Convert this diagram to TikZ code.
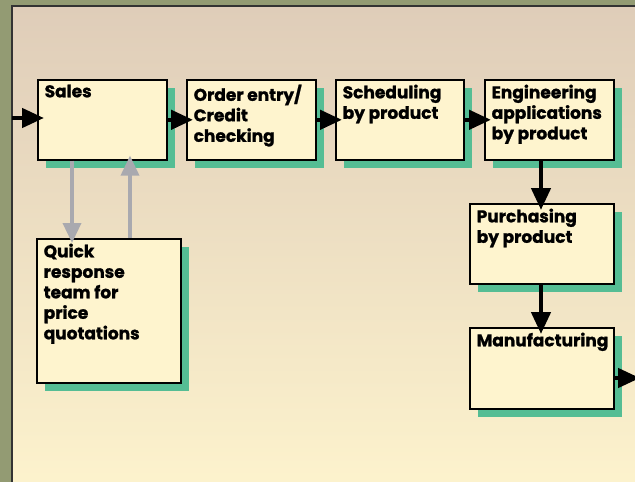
\documentclass[tikz,border=0pt]{standalone}
\usepackage{fontspec}
\setmainfont{Poppins}[BoldFeatures={FakeBold=1.2}]
\usetikzlibrary{arrows.meta,shadows}
\definecolor{olive}{HTML}{939B73}
\definecolor{paneltop}{HTML}{DFCDB9}
\definecolor{panelbot}{HTML}{FDF3CD}
\definecolor{boxfill}{HTML}{FEF4CE}
\definecolor{shadowgreen}{HTML}{55BD94}
\definecolor{feedback}{HTML}{A9A9AF}
\begin{document}
\begin{tikzpicture}[x=1pt,y=-1pt,
  txt/.style={anchor=north west, inner xsep=7.5pt, inner ysep=5.5pt, align=left,
    font=\fontsize{17}{20.5}\selectfont\bfseries},
  stepbox/.style={draw=black, line width=1.6pt, fill=boxfill, inner sep=0pt,
    anchor=north west,
    general shadow={fill=shadowgreen, shadow xshift=8.5pt, shadow yshift=-8.5pt},
    label={[txt]north west:{#1}}},
  flow/.style={line width=4.5pt, -{Triangle[length=22pt,width=19pt]}, shorten >=-7pt},
  back/.style={feedback, line width=3.5pt, -{Triangle[length=20pt,width=18pt]}, shorten >=-5pt}
]
% frame and shaded panel
\fill[olive] (0,0) rectangle (635,482);
\useasboundingbox (0,0) rectangle (635,482);
\draw[line width=2pt, draw=black!80, top color=paneltop, bottom color=panelbot]
  (12,6) rectangle (645,492);

% process boxes
\node[stepbox={Sales}, minimum width=129pt, minimum height=80pt] (sales) at (37,79) {};
\node[stepbox={Order entry/\\Credit\\checking}, minimum width=129pt, minimum height=80pt] (order) at (186,79) {};
\node[stepbox={Scheduling\\by product}, minimum width=128pt, minimum height=80pt] (sched) at (335,79) {};
\node[stepbox={Engineering\\applications\\by product}, minimum width=129pt, minimum height=80pt] (eng) at (484,79) {};
\node[stepbox={Quick\\response\\team for\\price\\quotations}, minimum width=144pt, minimum height=144pt] (quick) at (36,238) {};
\node[stepbox={Purchasing\\by product}, minimum width=144pt, minimum height=80pt] (purch) at (469,203) {};
\node[stepbox={Manufacturing}, minimum width=144pt, minimum height=81pt] (mfg) at (469,327) {};

% free ends of the flow
\coordinate (in) at (12,118);
\coordinate (out) at (640,378);
\coordinate (qdown) at (72,0);
\coordinate (qup) at (130,0);

% main flow
\draw[flow] (in) -- (sales.west |- in);
\draw[flow] (sales) -- (order);
\draw[flow] (order) -- (sched);
\draw[flow] (sched) -- (eng);
\draw[flow] (eng.south -| 541,0) -- (purch.north -| 541,0);
\draw[flow] (purch.south -| 541,0) -- (mfg.north -| 541,0);
\draw[flow, shorten >=0pt] (mfg.east |- out) -- (out);

% quotation loop
\draw[back] (sales.south -| qdown) -- (quick.north -| qdown);
\draw[back] (quick.north -| qup) -- (sales.south -| qup);
\end{tikzpicture}
\end{document}
